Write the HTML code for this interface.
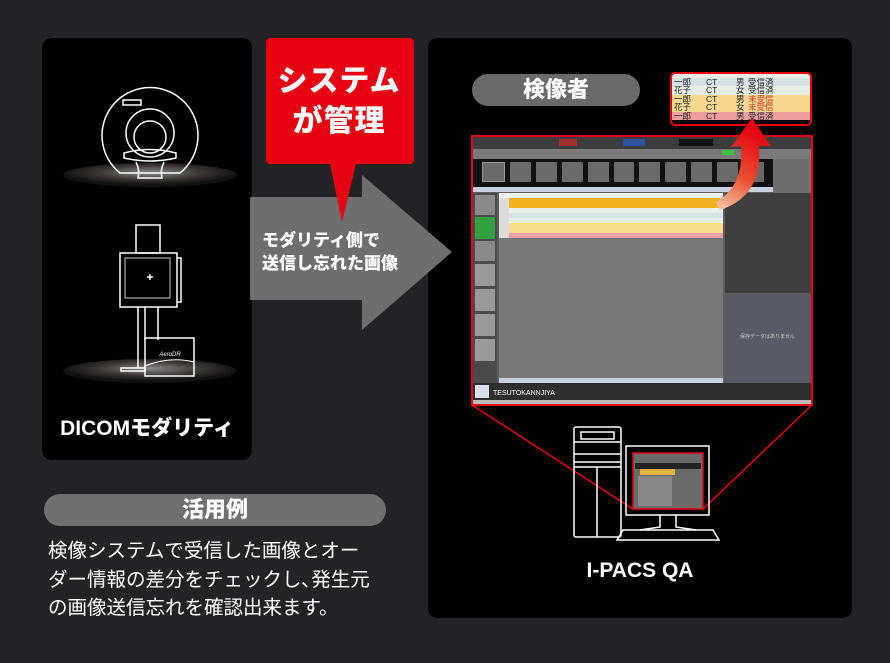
<!DOCTYPE html>
<html><head><meta charset="utf-8">
<style>
*{margin:0;padding:0;box-sizing:border-box}
body{width:890px;height:663px;background:#232326;position:relative;overflow:hidden;font-family:"Liberation Sans","Noto Sans CJK JP",sans-serif;color:#fff}
.a{position:absolute}
.r{position:relative;height:8.4px;overflow:hidden;font-size:8.5px;line-height:8.4px;white-space:nowrap}
.r span{position:absolute;top:0}
</style></head><body>
<div class="a" style="left:42px;top:38px;width:210px;height:422px;background:#000;border-radius:10px"></div>
<div class="a" style="left:428px;top:38px;width:424px;height:580px;background:#000;border-radius:10px"></div>

<svg class="a" style="left:0;top:0" width="890" height="663">
<defs>
<radialGradient id="sh" cx="50%" cy="40%" r="50%"><stop offset="0" stop-color="#888"/><stop offset="0.6" stop-color="#3a3535"/><stop offset="1" stop-color="#111"/></radialGradient>
</defs>
<polygon points="250,197 362,197 362,175 452,252 362,330 362,300 250,300" fill="#6e6e6e"/>
<path d="M270,38 H410 a4,4 0 0 1 4,4 V160 a4,4 0 0 1 -4,4 H356 L342,222 L330,164 H270 a4,4 0 0 1 -4,-4 V42 a4,4 0 0 1 4,-4Z" fill="#e60012"/>
<ellipse cx="150" cy="175" rx="87" ry="12" fill="url(#sh)"/>
<g fill="none" stroke="#fff" stroke-width="1.5">
<path d="M120,173 A48,48 0 1 1 180,173 Z"/>
<rect x="123" y="100" width="18" height="5"/>
<circle cx="150" cy="133" r="24"/><circle cx="150" cy="137" r="16"/>
<path d="M124,153 Q150,146 176,153 L176,158 Q150,164 124,158Z"/>
<path d="M136,162 Q140,170 138,178 L162,178 Q160,170 164,162"/>
</g>
<ellipse cx="150" cy="371" rx="87" ry="12" fill="url(#sh)"/>
<g fill="none" stroke="#fff" stroke-width="1.5">
<rect x="136" y="225" width="24" height="28"/>
<rect x="120" y="253" width="57" height="54"/>
<rect x="125" y="258" width="45" height="40" stroke-width="0.8"/>
<path d="M177,258 h4 v44 h-4"/>
<path d="M138,307 V368 M145,307 V340 M158,307 V340"/>
<path d="M121,368 h24 v3 h-24z"/>
<rect x="145" y="338" width="49" height="38"/>
<path d="M145,366 Q170,356 194,362" stroke-width="1"/>
<path d="M147,277 h6 M150,274 v6"/>
</g>
<text x="170" y="356" font-size="6" fill="#fff" text-anchor="middle" font-style="italic">AeroDR</text>
<g stroke="#e60012" stroke-width="1.5" fill="none">
<line x1="472" y1="405" x2="633" y2="509"/>
<line x1="812" y1="405" x2="703" y2="509"/>
</g>
<g fill="none" stroke="#fff" stroke-width="1.5">
<rect x="574" y="427" width="47" height="110" rx="2"/>
<rect x="581" y="432" width="33" height="7"/>
<path d="M574,442 h47 M574,454 h47 M574,462 h47 M574,467 h47 M597,467 V537"/>
<rect x="626" y="446" width="83" height="69"/>
<path d="M660,515 v12 l-20,3 M676,515 v12 l20,3"/>
<path d="M623,530 h90 l6,10 h-102z"/>
</g>
<rect x="633" y="453" width="70" height="56" fill="#6a6a6a" stroke="#e60012" stroke-width="1.5"/>
<rect x="635" y="463" width="66" height="6" fill="#222"/>
<rect x="640" y="469" width="35" height="6" fill="#e8b040"/>
<rect x="638" y="476" width="34" height="30" fill="#888"/>
</svg>

<div class="a" style="left:264px;top:62px;width:150px;text-align:center;font-size:30px;font-weight:900;line-height:40px;letter-spacing:1px">システム<br>が管理</div>
<div class="a" style="left:262px;top:229px;font-size:17px;font-weight:900;line-height:23px">モダリティ側で<br>送信し忘れた画像</div>

<div class="a" style="left:472px;top:74px;width:168px;height:32px;background:#6a6a6a;border-radius:16px;text-align:center;font-size:22px;font-weight:900;line-height:32px">検像者</div>

<div class="a" style="left:670px;top:72px;width:142px;height:54px;border:2px solid #e60012;border-radius:5px;overflow:hidden;color:#222">
<div class="r" style="background:#e6ece6;height:4px"></div>
<div class="r" style="background:#d8e2e4"><span style="left:2px">一郎</span><span style="left:34px">CT</span><span style="left:64px">男</span><span style="left:76px">受信済</span></div>
<div class="r" style="background:#e6ece6"><span style="left:2px">花子</span><span style="left:34px">CT</span><span style="left:64px">女</span><span style="left:76px">受信済</span></div>
<div class="r" style="background:#f6d890"><span style="left:2px">一郎</span><span style="left:34px">CT</span><span style="left:64px">男</span><span style="left:76px;color:#e83020">未受信</span></div>
<div class="r" style="background:#f6d890"><span style="left:2px">花子</span><span style="left:34px">CT</span><span style="left:64px">女</span><span style="left:76px;color:#e83020">未受信</span></div>
<div class="r" style="background:#eea0a0"><span style="left:2px">一郎</span><span style="left:34px">CT</span><span style="left:64px">男</span><span style="left:76px">受信済</span></div>
</div>

<div class="a" style="left:471px;top:135px;width:342px;height:271px;border:2px solid #e60012;background:#5e5e5e;overflow:hidden">
 <div class="a" style="left:0;top:0;width:338px;height:12px;background:#3c3c3c"></div>
 <div class="a" style="left:86px;top:2px;width:18px;height:7px;background:#a03030"></div>
 <div class="a" style="left:150px;top:2px;width:22px;height:7px;background:#3050a0"></div>
 <div class="a" style="left:206px;top:2px;width:34px;height:7px;background:#111"></div>
 <div class="a" style="left:0;top:12px;width:338px;height:10px;background:#7a7a7a"></div>
 <div class="a" style="left:249px;top:13px;width:12px;height:5px;background:#40c040"></div>
 <div class="a" style="left:0;top:22px;width:300px;height:28px;background:#111"></div>
 <div class="a" style="left:300px;top:22px;width:38px;height:34px;background:#6e6e6e"></div>
 <div class="a" style="left:0;top:50px;width:300px;height:5px;background:#c8d0e0"></div>
 <div class="a" style="left:0;top:56px;width:24px;height:190px;background:#4a4a4a"></div>
 <div class="a" style="left:2px;top:58px;width:20px;height:20px;background:#8a8a8a"></div>
 <div class="a" style="left:2px;top:80px;width:20px;height:22px;background:#30a040"></div>
 <div class="a" style="left:2px;top:104px;width:20px;height:20px;background:#8a8a8a"></div>
 <div class="a" style="left:2px;top:127px;width:20px;height:22px;background:#9a9a9a"></div>
 <div class="a" style="left:2px;top:152px;width:20px;height:22px;background:#9a9a9a"></div>
 <div class="a" style="left:2px;top:177px;width:20px;height:22px;background:#9a9a9a"></div>
 <div class="a" style="left:2px;top:202px;width:20px;height:22px;background:#9a9a9a"></div>
 <div class="a" style="left:26px;top:56px;width:224px;height:5px;background:#f0f0f0"></div>
 <div class="a" style="left:36px;top:61px;width:214px;height:40px;background:linear-gradient(#f0b020 0 10px,#e8efe8 10px 15px,#d8e2e4 15px 20px,#e8efe8 20px 25px,#f8dc90 25px 35px,#f0a0a8 35px 40px)"></div>
 <div class="a" style="left:26px;top:61px;width:10px;height:40px;background:#dcdcdc"></div>
 <div class="a" style="left:26px;top:101px;width:224px;height:140px;background:#787878"></div>
 <div class="a" style="left:26px;top:241px;width:224px;height:5px;background:#c8d0e0"></div>
 <div class="a" style="left:252px;top:56px;width:86px;height:100px;background:#3e3e3e"></div>
 <div class="a" style="left:252px;top:158px;width:86px;height:88px;background:#5a5a66"></div>
 <div class="a" style="left:267px;top:196px;font-size:5px;color:#ccc">保存データはありません</div>
 <div class="a" style="left:0;top:246px;width:338px;height:17px;background:#2e2e2e"></div>
 <div class="a" style="left:2px;top:248px;width:14px;height:13px;background:#d8e0f0"></div>
 <div class="a" style="left:20px;top:253px;font-size:7px;color:#fff">TESUTOKANNJIYA</div>
 <div class="a" style="left:0;top:263px;width:338px;height:4px;background:#bbb"></div>
</div>
<div class="a" style="left:475px;top:159px;width:296px;height:26px;display:flex;gap:3px;padding:0 6px">
 <div style="flex:1;background:#6a6a6a;margin:3px 1px;border:1px solid #999"></div><div style="flex:1;background:#6a6a6a;margin:3px 1px"></div><div style="flex:1;background:#6a6a6a;margin:3px 1px"></div><div style="flex:1;background:#6a6a6a;margin:3px 1px"></div><div style="flex:1;background:#6a6a6a;margin:3px 1px"></div><div style="flex:1;background:#6a6a6a;margin:3px 1px"></div><div style="flex:1;background:#6a6a6a;margin:3px 1px"></div><div style="flex:1;background:#6a6a6a;margin:3px 1px"></div><div style="flex:1;background:#6a6a6a;margin:3px 1px"></div><div style="flex:1;background:#6a6a6a;margin:3px 1px"></div><div style="flex:1;background:#6a6a6a;margin:3px 1px"></div>
</div>

<svg class="a" style="left:0;top:0" width="890" height="663">
<defs><linearGradient id="ar" x1="0" y1="1" x2="0.3" y2="0"><stop offset="0" stop-color="#f8d0b0"/><stop offset="0.45" stop-color="#ea5030"/><stop offset="1" stop-color="#e60012"/></linearGradient></defs>
<path d="M716,202 Q744,186 741,146 L731,147 L752,118 L771,146 L759,146 Q763,196 720,210 Z" fill="url(#ar)"/>
</svg>

<div class="a" style="left:42px;top:412px;width:210px;text-align:center;font-size:21px;font-weight:900">DICOMモダリティ</div>
<div class="a" style="left:580px;top:559px;width:120px;text-align:center;font-size:21px;font-weight:900">I-PACS QA</div>

<div class="a" style="left:44px;top:494px;width:342px;height:32px;background:#707070;border-radius:16px;text-align:center;font-size:22px;font-weight:900;line-height:32px">活用例</div>
<div class="a" style="left:48px;top:537px;width:345px;font-size:19.5px;line-height:28.5px;white-space:nowrap">検像システムで受信した画像とオー<br>ダー情報の差分をチェックし､発生元<br>の画像送信忘れを確認出来ます。</div>
</body></html>
